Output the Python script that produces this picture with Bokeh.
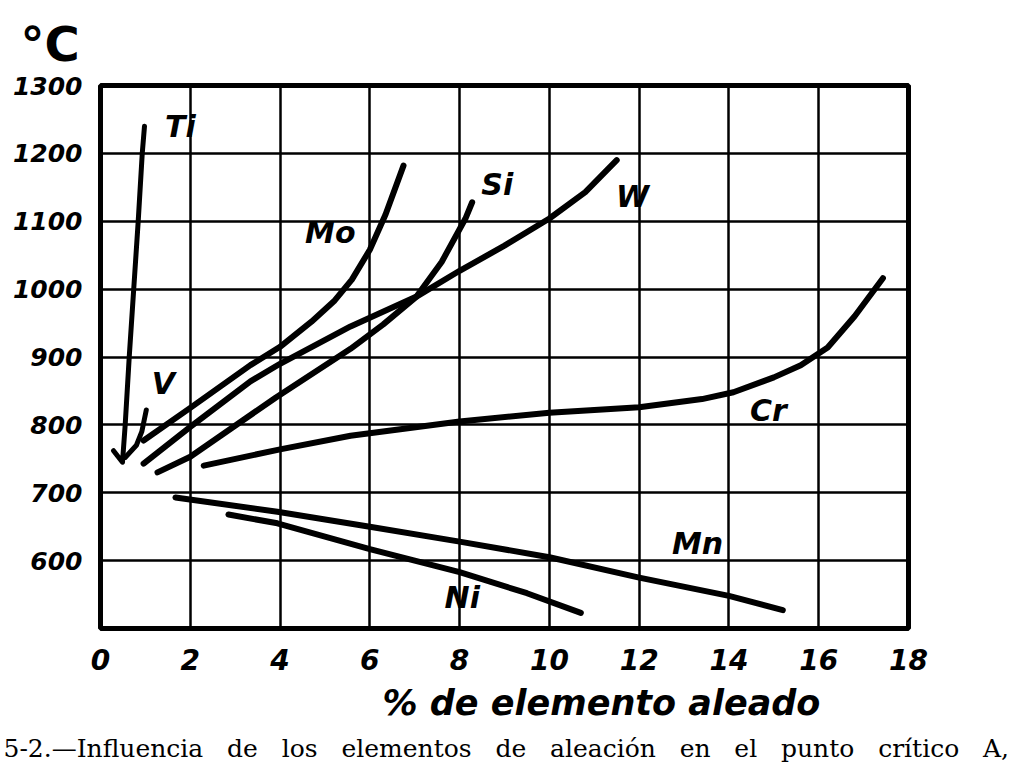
from bokeh.plotting import figure
from bokeh.models import Range1d, FixedTicker, Label, Title
from bokeh.embed import file_html
from bokeh.resources import INLINE

# ---- data ----
ti_x = [0.29, 0.49, 0.55, 0.64, 0.74, 0.84, 0.93, 0.98]
ti_y = [762, 745, 800, 900, 1000, 1100, 1200, 1240]

v_x = [0.55, 0.80, 0.92, 1.02]
v_y = [752, 770, 790, 822]

mo_x = [0.96, 2.0, 3.34, 4.0, 4.7, 5.2, 5.6, 6.0, 6.35, 6.75]
mo_y = [777, 825, 888, 915, 952, 982, 1014, 1058, 1110, 1182]

w_x = [0.96, 2.0, 3.34, 4.0, 5.57, 7.04, 8.0, 9.0, 10.0, 10.8, 11.5]
w_y = [743, 797, 864, 890, 945, 989, 1027, 1064, 1104, 1143, 1190]

si_x = [1.27, 2.0, 3.9, 5.57, 6.3, 7.04, 7.6, 8.13, 8.28]
si_y = [730, 753, 840, 912, 948, 989, 1040, 1104, 1128]

cr_x = [2.3, 4.0, 5.57, 8.0, 10.0, 12.0, 13.4, 14.1, 15.0, 15.6, 16.2, 16.8, 17.43]
cr_y = [740, 764, 784, 805, 818, 826, 838, 848, 870, 888, 914, 960, 1016]

mn_x = [1.67, 3.94, 6.0, 8.0, 10.0, 12.0, 14.0, 15.2]
mn_y = [693, 672, 650, 628, 605, 575, 548, 527]

ni_x = [2.85, 3.94, 6.0, 8.0, 9.5, 10.7]
ni_y = [668, 655, 617, 583, 552, 523]

x_ticks = [0, 2, 4, 6, 8, 10, 12, 14, 16, 18]
y_ticks = [600, 700, 800, 900, 1000, 1100, 1200, 1300]

curve_names = ["Ti", "V", "Mo", "Si", "W", "Cr", "Mn", "Ni"]
name_x = [1.78, 1.40, 5.12, 8.84, 11.85, 14.88, 13.3, 8.06]
name_y = [1239, 861, 1083, 1154, 1136, 821, 625, 546]

x_title = "% de elemento aleado"
y_unit = "°C"
caption_words = ["5-2.—Influencia", "de", "los", "elementos", "de", "aleación",
                 "en", "el", "punto", "crítico", "A,"]

# ---- figure ----
p = figure(frame_width=808, frame_height=543, output_backend="svg", toolbar_location=None,
           x_range=Range1d(0, 18), y_range=Range1d(500, 1300),
           min_border_left=100, min_border_right=108,
           min_border_top=0, min_border_bottom=0)
p.background_fill_color = "white"
p.border_fill_color = "white"
p.outline_line_color = "black"
p.outline_line_width = 5

p.xaxis.ticker = FixedTicker(ticks=x_ticks)
p.yaxis.ticker = FixedTicker(ticks=y_ticks)
for ax in (p.xaxis[0], p.yaxis[0]):
    ax.axis_line_color = None
    ax.major_tick_line_color = None
    ax.minor_tick_line_color = None
    ax.major_label_text_font = "DejaVu Sans"
    ax.major_label_text_font_style = "bold italic"
    ax.major_label_text_color = "black"
p.yaxis.major_label_text_font_size = "25px"
p.yaxis.major_label_standoff = 12
p.xaxis.major_label_text_font_size = "28px"
p.xaxis.major_label_standoff = 14

p.xgrid.grid_line_color = "black"
p.ygrid.grid_line_color = "black"
p.xgrid.grid_line_width = 2.5
p.ygrid.grid_line_width = 2.5
p.xgrid.grid_line_alpha = 1
p.ygrid.grid_line_alpha = 1

for xs, ys, w in [(ti_x, ti_y, 5), (v_x, v_y, 5), (mo_x, mo_y, 6), (w_x, w_y, 6),
                  (si_x, si_y, 6), (cr_x, cr_y, 6), (mn_x, mn_y, 6), (ni_x, ni_y, 6)]:
    p.line(xs, ys, line_color="black", line_width=w, line_cap="round", line_join="round")

for name, lx, ly in zip(curve_names, name_x, name_y):
    p.add_layout(Label(x=lx, y=ly, text=name, text_font="DejaVu Sans",
                       text_font_style="bold italic", text_font_size="30px",
                       text_align="center", text_baseline="middle", text_color="black"))

# °C above the frame, to the left
p.add_layout(Title(text=y_unit, align="left", offset=-80, standoff=27,
                   text_font="DejaVu Sans", text_font_style="bold",
                   text_font_size="48px", text_color="black"), "above")

# x title and caption below
p.add_layout(Title(text=x_title, align="left", offset=282, standoff=16,
                   text_font="DejaVu Sans", text_font_style="bold italic",
                   text_font_size="35px", text_color="black"), "below")
p.add_layout(Title(text="\u00a0\u00a0\u00a0".join(caption_words), align="left",
                   offset=-97, standoff=2,
                   text_font="DejaVu Serif", text_font_style="normal",
                   text_font_size="25px", text_color="black"), "below")

open("out.html", "w").write(file_html(p, INLINE))
